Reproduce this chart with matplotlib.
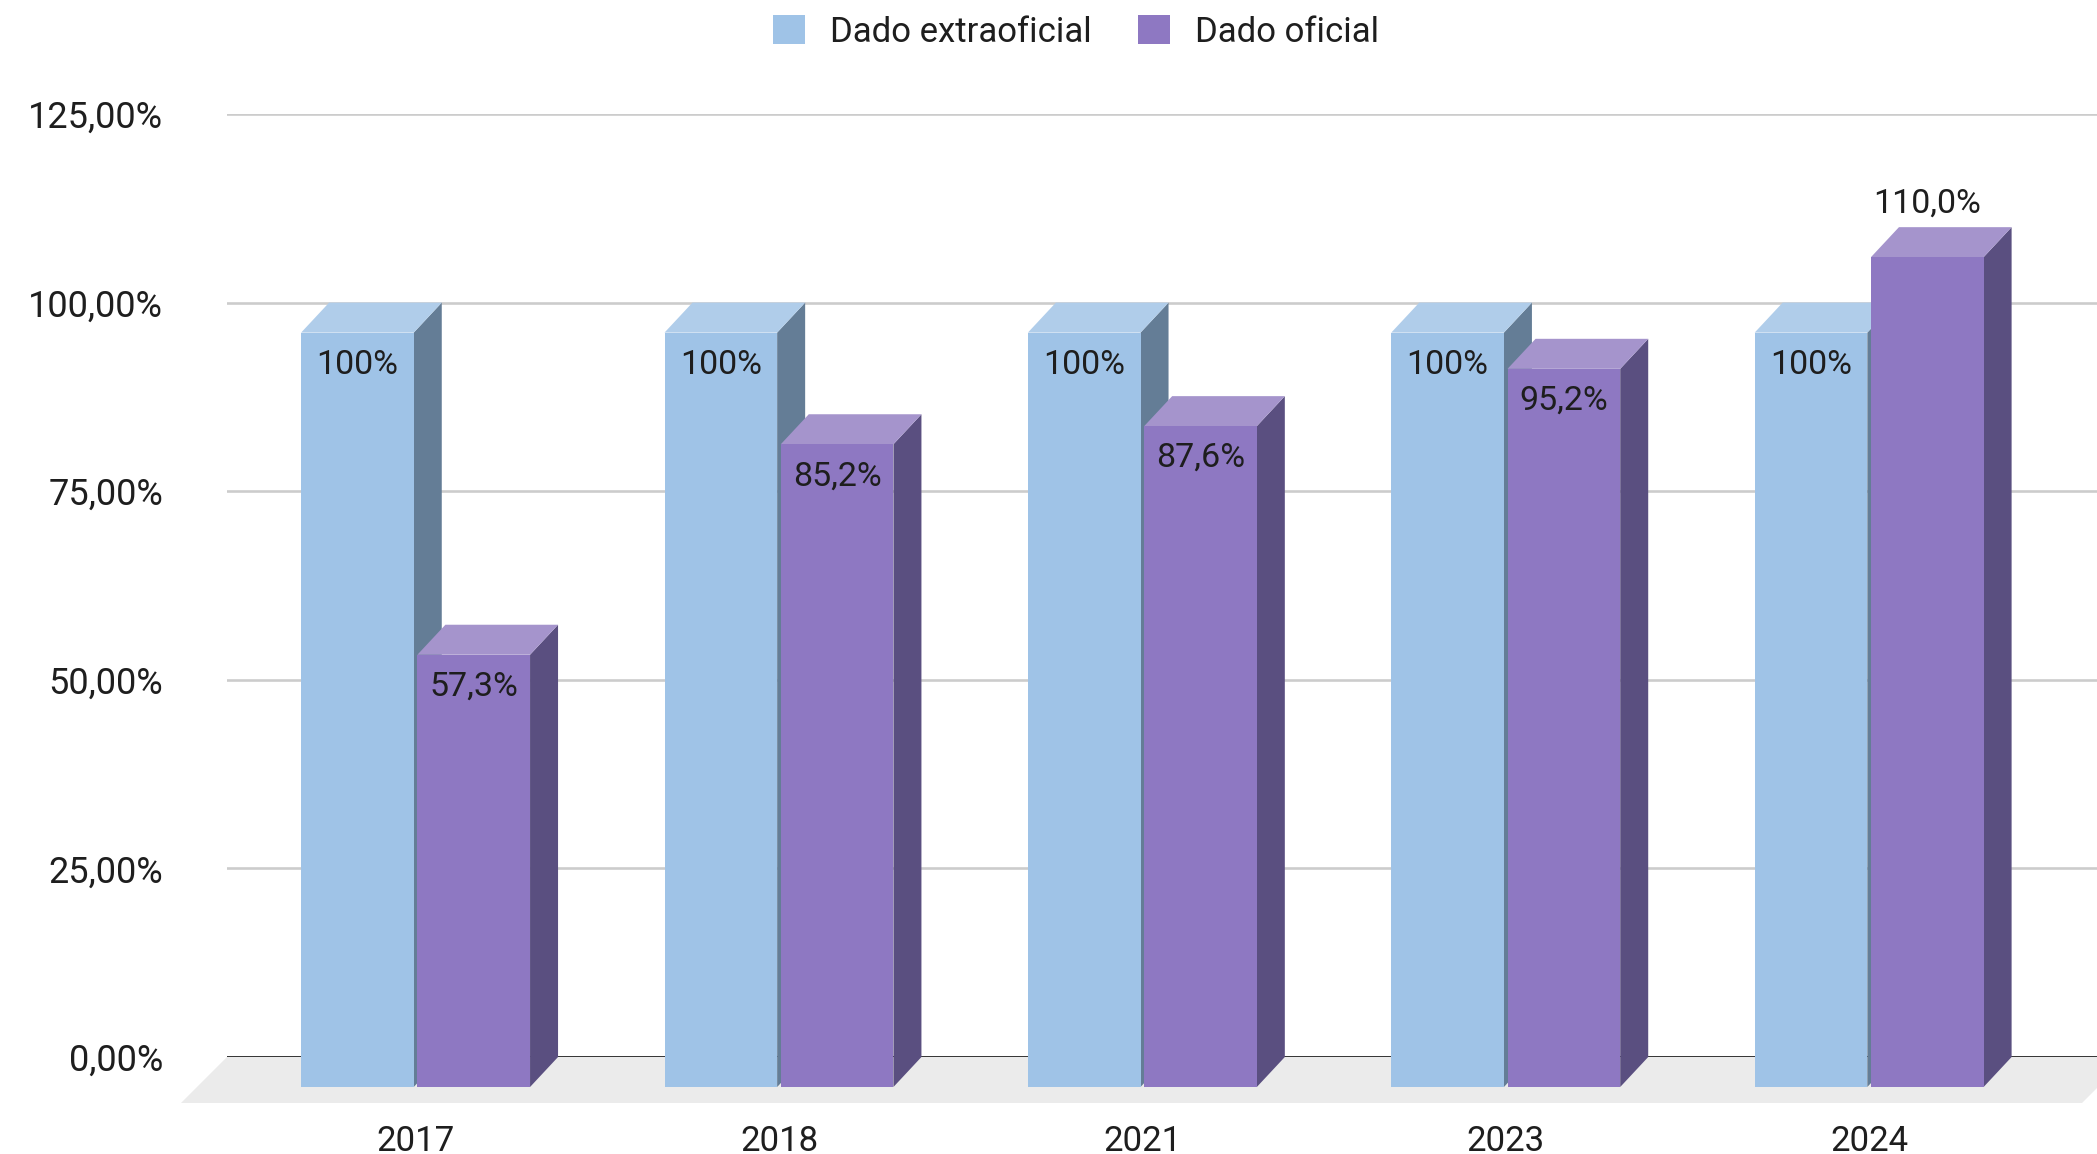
import numpy as np
import matplotlib
matplotlib.use('Agg')
import matplotlib.pyplot as plt
from matplotlib.patches import Polygon, Patch

# dados do grafico
anos = ['2017', '2018', '2021', '2023', '2024']
extraoficial = [100, 100, 100, 100, 100]
oficial = [57.3, 85.2, 87.6, 95.2, 110.0]
rotulos_extra = ['100%', '100%', '100%', '100%', '100%']
rotulos_oficial = ['57,3%', '85,2%', '87,6%', '95,2%', '110,0%']
yticks = [0, 25, 50, 75, 100, 125]
ytick_labels = ['0,00%', '25,00%', '50,00%', '75,00%', '100,00%', '125,00%']
series = ['Dado extraoficial', 'Dado oficial']

# cores (frente, topo, lado)
azul = ('#9fc3e7', '#b0cdea', '#647d96')
roxo = ('#8e78c2', '#a594cc', '#5a4f80')

plt.rcParams['font.family'] = ['Roboto', 'DejaVu Sans']
txt = '#1e1e1e'

W, H = 2097, 1154
fig = plt.figure(figsize=(W / 100, H / 100), dpi=100)
ax = fig.add_axes([227 / W, 97 / H, 1870 / W, 943 / H])
ax.set_xlim(-0.596, 4.55)
ax.set_ylim(0, 125)
for s in ax.spines.values():
    s.set_visible(False)

# profundidade 3D em pixels -> unidades de dados
p0 = ax.transData.transform((0, 0))
p1 = ax.transData.transform((1, 1))
ux, uy = p1[0] - p0[0], p1[1] - p0[1]
ddx, ddy = 28 / ux, 30 / uy

x = np.arange(len(anos))
bw = 0.31

ax.set_yticks(yticks, ytick_labels)
ax.tick_params(axis='y', length=0, pad=46, labelsize=26, labelcolor=txt)
ax.yaxis.grid(True, color='#cccccc', linewidth=1.9, zorder=0)
ax.set_axisbelow(True)
ax.set_xticks(x - ddx, anos)
ax.tick_params(axis='x', length=0, pad=49, labelsize=25, labelcolor=txt)

# piso
fdx, fdy = 46 / ux, 46 / uy
xmin, xmax = ax.get_xlim()
piso = Polygon([(xmin, 0), (xmax + 31 / ux, 0), (xmax + 31 / ux - fdx, -fdy), (xmin - fdx, -fdy)],
               closed=True, facecolor='#ebebeb', edgecolor='none', zorder=1, clip_on=False)
ax.add_patch(piso)
ax.axhline(0, color='#333333', linewidth=2.1, zorder=2)


def barras3d(x0, vals, cores, z):
    frente, topo, lado = cores
    ax.bar(x0 - ddx, vals, bw, bottom=-ddy, align='edge', color=frente,
           zorder=z + 0.2, clip_on=False)
    for xi, v in zip(x0, vals):
        x1 = xi + bw
        ax.add_patch(Polygon([(x1 - ddx, -ddy), (x1, 0), (x1, v), (x1 - ddx, v - ddy)],
                             closed=True, facecolor=lado, edgecolor='none', zorder=z, clip_on=False))
        ax.add_patch(Polygon([(xi - ddx, v - ddy), (x1 - ddx, v - ddy), (x1, v), (xi, v)],
                             closed=True, facecolor=topo, edgecolor='none', zorder=z + 0.1, clip_on=False))


barras3d(x - bw - 0.005, extraoficial, azul, 3)
barras3d(x + 0.005, oficial, roxo, 4)

# rotulos
for xi, v, r in zip(x - bw - 0.005, extraoficial, rotulos_extra):
    ax.annotate(r, (xi + bw / 2 - ddx, v - ddy), xytext=(0, -32 * 0.72), textcoords='offset points',
                ha='center', va='center', fontsize=24.5, color=txt, zorder=10, annotation_clip=False)
for xi, v, r in zip(x + 0.005, oficial, rotulos_oficial):
    if v > 100:
        pos = (xi + bw / 2 - ddx, v)
        off = 24 * 0.72
    else:
        pos = (xi + bw / 2 - ddx, v - ddy)
        off = -32 * 0.72
    ax.annotate(r, pos, xytext=(0, off), textcoords='offset points',
                ha='center', va='center', fontsize=24.5, color=txt, zorder=10, annotation_clip=False)

handles = [Patch(facecolor=azul[0], edgecolor='none', label=series[0]),
           Patch(facecolor=roxo[0], edgecolor='none', label=series[1])]
fig.legend(handles=handles, loc='center', bbox_to_anchor=(0.513, 1 - 32 / H), ncol=2, frameon=False,
           fontsize=25, handlelength=0.92, handleheight=0.92, handletextpad=0.72, columnspacing=1.33,
           labelcolor=txt)

fig.savefig('out.png', dpi=100, facecolor='white')
